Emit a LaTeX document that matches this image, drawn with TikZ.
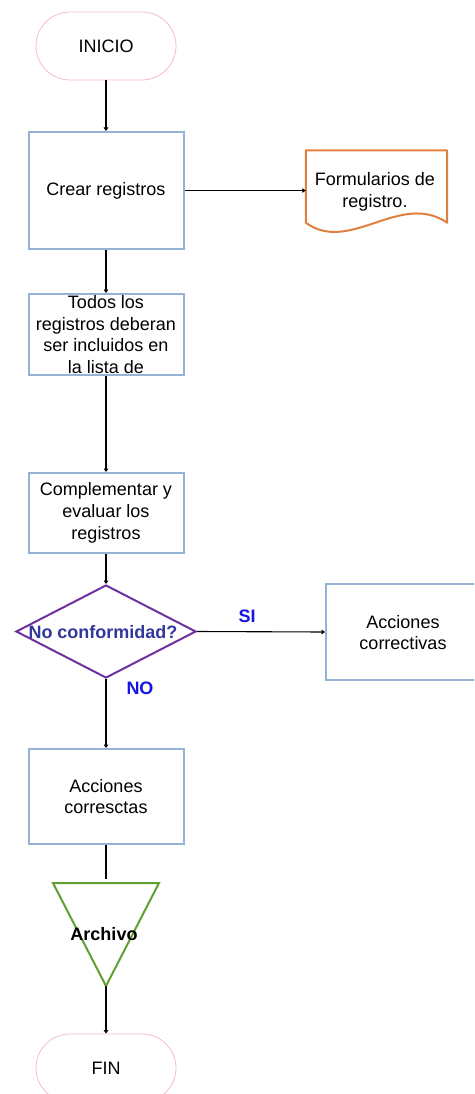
\documentclass[tikz,border=0pt]{standalone}
\usepackage{fontspec}
\setmainfont{Liberation Sans}
\usetikzlibrary{shapes.geometric,arrows.meta,calc}

\definecolor{boxblue}{HTML}{95B3D7}
\definecolor{termpink}{HTML}{F5B8D6}
\definecolor{docorange}{HTML}{E0803F}
\definecolor{decpurple}{HTML}{7030A0}
\definecolor{dectext}{HTML}{33379C}
\definecolor{labelblue}{HTML}{1414E6}
\definecolor{archgreen}{HTML}{5FA030}

\begin{document}
\begin{tikzpicture}[x=1pt,y=-1pt,
  every node/.style={font=\fontsize{18}{21.7}\selectfont, inner sep=0pt, align=center},
  terminal/.style={draw=termpink, line width=0.8pt, rounded corners=34pt,
    minimum width=140pt, minimum height=68pt},
  procbox/.style={draw=boxblue, line width=2pt, minimum width=155pt},
  conn/.style={line width=1.1pt, -{Triangle[length=3.5pt,width=4.5pt]}},
  plain/.style={line width=1.1pt},
  yesno/.style={text=labelblue, font=\fontsize{18}{21.7}\selectfont\bfseries}]

\useasboundingbox (0,0) rectangle (474,1094);
\clip (0,0) rectangle (474,1094);

% main column
\node[terminal] (ini) at (106,46) {INICIO};
\node[procbox, minimum height=117pt] (crear) at (106,190.5) {Crear registros};
\node[procbox, minimum height=81pt] (todos) at (106,334.5)
  {Todos los\\registros deberan\\ser incluidos en\\la lista de};
\node[procbox, minimum height=80pt] (comp) at (106,513)
  {Complementar y\\evaluar los\\registros};
\node[diamond, draw=decpurple, line width=2pt, minimum width=180pt,
  minimum height=93pt] (dec) at (106,631.5) {};
\node[text=dectext, font=\fontsize{18}{21.7}\selectfont\bfseries] (dectxt) at (103,632) {No conformidad?};
\node[procbox, minimum height=95pt] (correctas) at (106,796.5) {Acciones\\corresctas};

% archive triangle
\coordinate (archtl) at (53,883);
\coordinate (archtr) at (159,883);
\coordinate (archtop) at (106,883);
\coordinate (archtip) at (106,986);
\draw[archgreen, line width=2pt, line join=miter] (archtl) -- (archtr) -- (archtip) -- cycle;
\node[font=\fontsize{18}{21.7}\selectfont\bfseries] (arch) at (104,934) {Archivo};

\node[terminal] (fin) at (106,1068) {FIN};

% side branch
\node[minimum width=141pt, minimum height=72pt] (doc) at (376.5,186.5) {};
\draw[docorange, line width=2pt, line join=round]
  (doc.south west) -- (doc.north west) -- (doc.north east) -- (doc.south east)
  .. controls ($(doc.south east)+(-47,-32)$) and ($(doc.south west)+(44,32)$) .. (doc.south west) -- cycle;
\node (doctxt) at (375,192) {Formularios de\\registro.};

\node[procbox, minimum width=150pt, minimum height=96pt] (correctivas) at (401,632) {};
\node (corrtxt) at (403,632.5) {Acciones\\correctivas};

% connectors
\draw[conn] (ini) -- (crear);
\draw[conn] (crear.east) -- (crear.east -| doc.west);
\draw[conn] (crear) -- (todos);
\draw[conn] (todos) -- (comp);
\draw[conn] (comp.south) -- (dec.north);
\draw[conn] (dec.east) -- (correctivas.west);
\draw[conn] (dec.south) -- (correctas.north);
\draw[plain] (correctas.south) -- ($(archtop)+(0,-4)$);
\draw[conn] (archtip) -- (fin.north);

% branch labels
\node[yesno] (si) at (247,616) {SI};
\node[yesno] (no) at (140,688) {NO};
\end{tikzpicture}
\end{document}
